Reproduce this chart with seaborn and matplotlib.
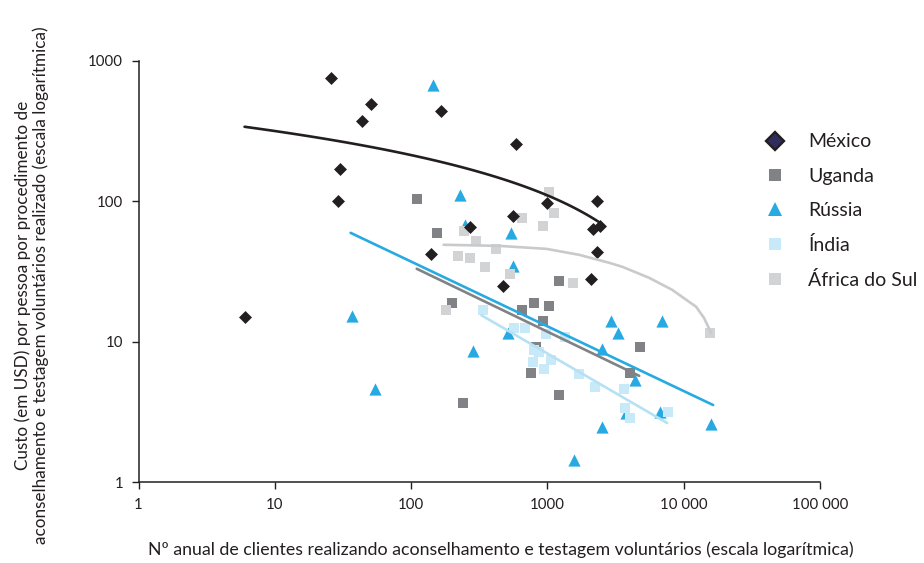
import numpy as np
import pandas as pd
import matplotlib
matplotlib.use('Agg')
import matplotlib.pyplot as plt
from matplotlib.lines import Line2D
import seaborn as sns

# pontos (x = clientes/ano, y = custo em USD)
mexico_x = [6, 26, 30, 29, 44, 51, 165, 140, 270, 470, 560, 1000, 590, 2300, 2150, 2450, 2300, 2100]
mexico_y = [15, 760, 170, 100, 375, 495, 440, 42, 66, 25, 79, 98, 258, 100, 64, 67, 44, 28]

uganda_x = [110, 155, 200, 240, 650, 800, 1030, 930, 820, 760, 1220, 1220, 4800, 4050]
uganda_y = [105, 60, 19, 3.7, 17, 19, 18, 14, 9.2, 6.0, 27, 4.2, 9.2, 6.0]

russia_x = [37, 54, 146, 230, 250, 545, 560, 510, 285, 2950, 6950, 3300, 2500, 4400, 6700, 2500, 16000, 1580, 3800]
russia_y = [15.3, 4.6, 670, 112, 68, 60, 35, 11.6, 8.6, 14, 14, 11.6, 8.9, 5.4, 3.2, 2.5, 2.6, 1.45, 3.1]

india_x = [335, 570, 680, 970, 1350, 800, 870, 780, 1070, 950, 1700, 2250, 3650, 3700, 4050, 7700]
india_y = [17, 12.5, 12.5, 11.4, 10.9, 8.8, 8.5, 7.2, 7.4, 6.4, 5.9, 4.8, 4.6, 3.4, 2.9, 3.2]

africa_x = [1020, 1120, 655, 935, 245, 300, 420, 220, 270, 350, 535, 1550, 180, 15600]
africa_y = [117, 83, 76, 67, 62, 52, 46, 41, 39.5, 34, 30.5, 26.5, 17, 11.6]

# linhas de tendência
mexico_trend_a, mexico_trend_b = 420.7, -103.4   # y = a + b*log10(x)
mexico_trend_range = [6, 2450]
uganda_trend_x, uganda_trend_y = [110, 4720], [33.2, 5.74]
russia_trend_x, russia_trend_y = [36, 16440], [59.8, 3.56]
india_trend_x, india_trend_y = [328, 7570], [15.5, 2.65]
africa_trend_x = [173, 445, 984, 1716, 2845, 3542, 5587, 8240, 10970, 12350, 14120, 15900]
africa_trend_y = [49.2, 48.3, 46.0, 41.7, 36.6, 34.3, 28.6, 23.5, 19.3, 17.8, 14.8, 11.6]

countries = ['México', 'Uganda', 'Rússia', 'Índia', 'África do Sul']
xticks = [1, 10, 100, 1000, 10000, 100000]
xticklabels = ['1', '10', '100', '1000', '10 000', '100 000']
yticks = [1, 10, 100, 1000]
yticklabels = ['1', '10', '100', '1000']

colors = {'México': '#231f20', 'Uganda': '#808285', 'Rússia': '#27aae1',
          'Índia': '#c8e9f8', 'África do Sul': '#d1d3d4'}
line_colors = {'México': '#231f20', 'Uganda': '#808285', 'Rússia': '#27aae1',
               'Índia': '#b5e1f5', 'África do Sul': '#c9cacb'}
markers = {'México': 'D', 'Uganda': 's', 'Rússia': '^', 'Índia': 's', 'África do Sul': 's'}
msize = {'México': 6.6, 'Uganda': 7.9, 'Rússia': 8.8, 'Índia': 7.9, 'África do Sul': 7.9}

df = pd.concat([
    pd.DataFrame({'x': mexico_x, 'y': mexico_y, 'pais': 'México'}),
    pd.DataFrame({'x': uganda_x, 'y': uganda_y, 'pais': 'Uganda'}),
    pd.DataFrame({'x': russia_x, 'y': russia_y, 'pais': 'Rússia'}),
    pd.DataFrame({'x': india_x, 'y': india_y, 'pais': 'Índia'}),
    pd.DataFrame({'x': africa_x, 'y': africa_y, 'pais': 'África do Sul'}),
], ignore_index=True)

mx = np.geomspace(mexico_trend_range[0], mexico_trend_range[1], 100)
trends = pd.concat([
    pd.DataFrame({'x': mx, 'y': mexico_trend_a + mexico_trend_b * np.log10(mx), 'pais': 'México'}),
    pd.DataFrame({'x': uganda_trend_x, 'y': uganda_trend_y, 'pais': 'Uganda'}),
    pd.DataFrame({'x': russia_trend_x, 'y': russia_trend_y, 'pais': 'Rússia'}),
    pd.DataFrame({'x': india_trend_x, 'y': india_trend_y, 'pais': 'Índia'}),
    pd.DataFrame({'x': africa_trend_x, 'y': africa_trend_y, 'pais': 'África do Sul'}),
], ignore_index=True)

sns.set_theme(style='white')
plt.rcParams['font.family'] = ['Lato', 'DejaVu Sans']

fig = plt.figure(figsize=(9.24, 5.63), dpi=100)
ax = fig.add_axes([0.1499, 0.1430, 0.7375, 0.7487])

# ordem de desenho igual à do original
for c in ['Uganda', 'Rússia', 'Índia', 'África do Sul', 'México']:
    sub = df[df['pais'] == c]
    sns.scatterplot(data=sub, x='x', y='y', ax=ax, marker=markers[c], color=colors[c],
                    s=msize[c] ** 2, linewidth=0, legend=False, zorder=3)

for c in ['África do Sul', 'Índia', 'Uganda', 'Rússia', 'México']:
    sub = trends[trends['pais'] == c]
    sns.lineplot(data=sub, x='x', y='y', ax=ax, color=line_colors[c], linewidth=1.9,
                 sort=False, estimator=None, legend=False, zorder=4)

ax.set_xscale('log')
ax.set_yscale('log')
ax.set_xlim(1, 100000)
ax.set_ylim(1, 1000)
ax.set_xticks(xticks)
ax.set_xticklabels(xticklabels)
ax.set_yticks(yticks)
ax.set_yticklabels(yticklabels)
ax.minorticks_off()

sns.despine(ax=ax)
for s in ['left', 'bottom']:
    ax.spines[s].set_color('#231f20')
    ax.spines[s].set_linewidth(1.1)
ax.tick_params(axis='both', which='major', direction='out', length=5, width=1,
               color='#231f20', labelsize=10.8, labelcolor='#231f20', pad=6, left=True, bottom=True)

ax.set_xlabel('Nº anual de clientes realizando aconselhamento e testagem voluntários (escala logarítmica)',
              fontsize=12.8, color='#231f20')
ax.xaxis.set_label_coords(0.532, -0.140)
ax.xaxis.label.set_va('top')
ax.set_ylabel('Custo (em USD) por pessoa por procedimento de\n'
              'aconselhamento e testagem voluntários realizado (escala logarítmica)',
              fontsize=12.3, color='#231f20', linespacing=1.05)
ax.yaxis.set_label_coords(-0.132, 0.468)

handles = []
for c in countries:
    if c == 'México':
        h = Line2D([], [], linestyle='none', marker='D', markersize=9,
                   markerfacecolor='#2e2d5e', markeredgecolor='#231f20', markeredgewidth=1.7)
    else:
        h = Line2D([], [], linestyle='none', marker=markers[c], markersize=msize[c] + 1.2,
                   markerfacecolor=colors[c], markeredgewidth=0)
    handles.append(h)
fig.legend(handles, countries, loc='upper left', bbox_to_anchor=(0.828, 0.763),
           frameon=False, fontsize=14, handlelength=1.0, handletextpad=1.22,
           labelspacing=0.88, borderpad=0, borderaxespad=0, labelcolor='#231f20')

fig.savefig('out.png', dpi=100)
